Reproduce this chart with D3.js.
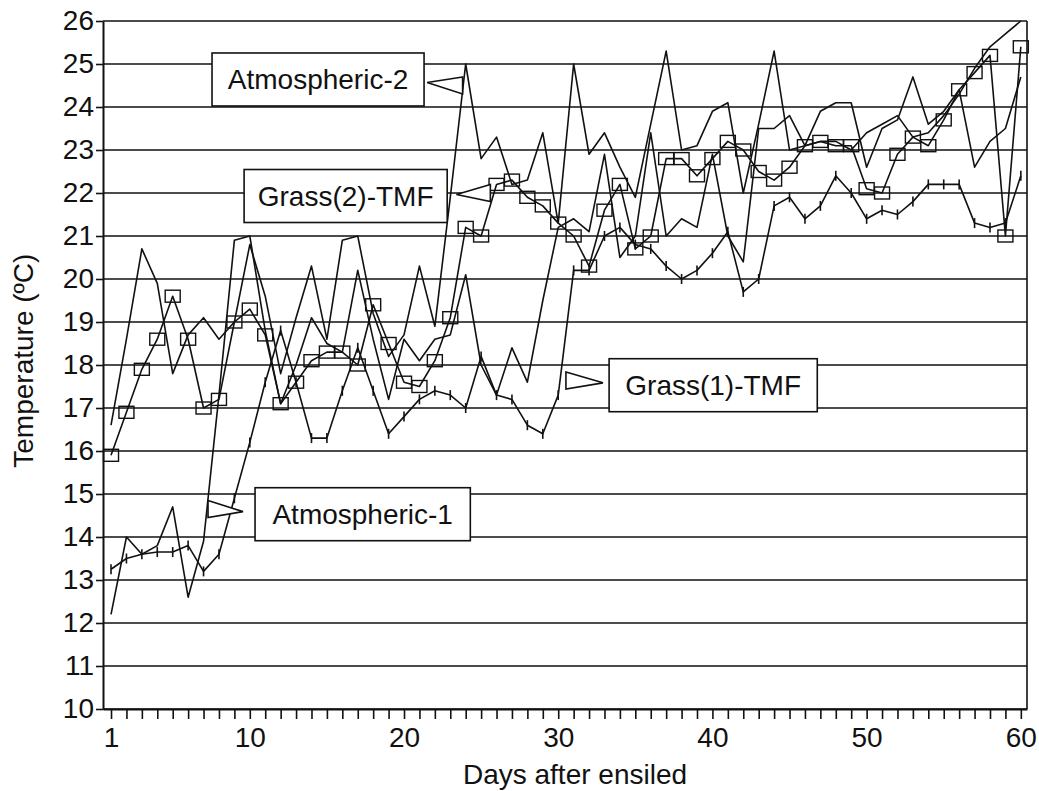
<!DOCTYPE html>
<html>
<head>
<meta charset="utf-8">
<script src="https://cdn.jsdelivr.net/npm/d3@7"></script>
<style>
body { margin: 0; background: #fff; }
text { font-family: "Liberation Sans", Arial, sans-serif; fill: #111; }
</style>
</head>
<body>
<div id="chart-area"></div>
<script>
var days = d3.range(1, 61);

var grass2 = [15.9, 16.9, 17.9, 18.6, 19.6, 18.6, 17.0, 17.2, 19.0, 19.3,
    18.7, 17.1, 17.6, 18.1, 18.3, 18.3, 18.0, 19.4, 18.5, 17.6,
    17.5, 18.1, 19.1, 21.2, 21.0, 22.2, 22.3, 21.9, 21.7, 21.3,
    21.0, 20.3, 21.6, 22.2, 20.7, 21.0, 22.8, 22.8, 22.4, 22.8,
    23.2, 23.0, 22.5, 22.3, 22.6, 23.1, 23.2, 23.1, 23.1, 22.1,
    22.0, 22.9, 23.3, 23.1, 23.7, 24.4, 24.8, 25.2, 21.0, 25.4];

var grass1 = [13.25, 13.5, 13.6, 13.65, 13.65, 13.8, 13.2, 13.6, 14.9, 16.2,
    17.6, 18.8, 17.6, 16.3, 16.3, 17.4, 18.4, 17.4, 16.4, 16.8,
    17.2, 17.4, 17.3, 17.0, 18.2, 17.3, 17.2, 16.6, 16.4, 17.3,
    20.2, 20.2, 21.0, 21.2, 20.8, 20.7, 20.3, 20.0, 20.2, 20.6,
    21.1, 19.7, 20.0, 21.7, 21.9, 21.4, 21.7, 22.4, 22.0, 21.4,
    21.6, 21.5, 21.8, 22.2, 22.2, 22.2, 21.3, 21.2, 21.3, 22.4];

var atmos2 = [16.6, 18.6, 20.7, 19.9, 17.8, 18.7, 19.1, 18.6, 19.0, 20.8,
    19.6, 17.8, 19.1, 20.3, 18.6, 20.9, 21.0, 19.2, 18.2, 18.7,
    20.3, 18.9, 21.9, 25.0, 22.8, 23.3, 22.2, 22.3, 23.4, 21.3,
    25.0, 22.9, 23.4, 22.6, 21.9, 23.6, 25.3, 23.0, 23.1, 23.9,
    24.1, 22.0, 23.6, 25.3, 23.0, 23.1, 23.9, 24.1, 24.1, 22.6,
    23.5, 23.7, 24.7, 23.6, 23.9, 24.4, 22.6, 23.2, 23.5, 24.7];

var atmos1 = [12.2, 14.0, 13.6, 13.8, 14.7, 12.6, 13.9, 17.3, 20.9, 21.0,
    18.8, 17.1, 18.0, 19.1, 18.5, 18.3, 20.2, 18.6, 17.2, 18.6,
    18.1, 18.6, 18.7, 20.1, 18.0, 17.3, 18.4, 17.6, 19.5, 21.2,
    21.4, 21.1, 22.9, 20.5, 21.0, 23.4, 21.0, 21.4, 21.2, 22.9,
    21.0, 20.4, 23.5, 23.5, 23.8, 23.1, 23.2, 23.2, 23.0, 23.4,
    23.6, 23.8, 23.3, 23.4, 23.8, 24.3, 24.9, 25.4, 25.7, 26.0];

var yTicks = d3.range(10, 27);
var xTickLabels = [1, 10, 20, 30, 40, 50, 60];

// label boxes: box span in days, box centre in degrees, pointer base on the line
var labels = [
    { text: "Atmospheric-2", d0: 7.55, d1: 21.3, t: 24.64, tipDay: 21.5, baseDay: 23.8, baseT: 24.5 },
    { text: "Grass(2)-TMF", d0: 9.63, d1: 22.8, t: 21.93, tipDay: 23.4, baseDay: 25.6, baseT: 22.0 },
    { text: "Grass(1)-TMF", d0: 33.3, d1: 46.8, t: 17.53, tipDay: 32.9, baseDay: 30.5, baseT: 17.64 },
    { text: "Atmospheric-1", d0: 10.34, d1: 24.3, t: 14.53, tipDay: 9.56, baseDay: 7.29, baseT: 14.65 }
];

var width = 1039, height = 791;

var svg = d3.select("#chart-area")
    .append("svg")
    .attr("width", width)
    .attr("height", height)
    .style("background-color", "#fff");

var x = d3.scaleLinear().domain([0.48, 60.4]).range([103, 1027]);
var y = d3.scaleLinear().domain([10, 26]).range([709, 21]);

// grid lines
svg.append("g").selectAll("line")
    .data(yTicks)
    .enter().append("line")
    .attr("x1", x.range()[0])
    .attr("x2", x.range()[1])
    .attr("y1", d => y(d))
    .attr("y2", d => y(d))
    .attr("stroke", "#111")
    .attr("stroke-width", 1.6);

// right border
svg.append("line")
    .attr("x1", x.range()[1]).attr("x2", x.range()[1])
    .attr("y1", y(26)).attr("y2", y(10))
    .attr("stroke", "#111")
    .attr("stroke-width", 1.6);

var yAxis = svg.append("g")
    .attr("transform", "translate(" + x.range()[0] + ",0)")
    .call(d3.axisLeft(y).tickValues(yTicks).tickSize(7).tickSizeOuter(0).tickPadding(2));

var xAxis = svg.append("g")
    .attr("transform", "translate(0," + y(10) + ")")
    .call(d3.axisBottom(x).tickValues(days).tickSize(10).tickSizeOuter(0).tickPadding(8)
        .tickFormat(d => xTickLabels.indexOf(d) >= 0 ? d : ""));

[yAxis, xAxis].forEach(a => {
    a.select(".domain").attr("stroke", "#111").attr("stroke-width", 2);
    a.selectAll(".tick line").attr("stroke", "#111").attr("stroke-width", 1.6);
    a.selectAll(".tick text")
        .attr("font-size", "28px")
        .attr("font-family", "'Liberation Sans', Arial, sans-serif")
        .attr("fill", "#111");
});

svg.append("text")
    .attr("x", 575)
    .attr("y", 784)
    .attr("text-anchor", "middle")
    .attr("font-size", "28px")
    .text("Days after ensiled");

svg.append("text")
    .attr("transform", "translate(33," + y(18.1) + ") rotate(-90)")
    .attr("text-anchor", "middle")
    .attr("font-size", "28px")
    .text("Temperature (\u00BAC)");

var line = d3.line()
    .x((d, i) => x(days[i]))
    .y(d => y(d));

[atmos1, atmos2, grass1, grass2].forEach(s => {
    svg.append("path")
        .datum(s)
        .attr("fill", "none")
        .attr("stroke", "#111")
        .attr("stroke-width", 1.6)
        .attr("stroke-linejoin", "round")
        .attr("d", line);
});

// tick markers on Grass(1)-TMF
svg.append("g").selectAll("line")
    .data(grass1)
    .enter().append("line")
    .attr("x1", (d, i) => x(days[i]))
    .attr("x2", (d, i) => x(days[i]))
    .attr("y1", d => y(d) - 5)
    .attr("y2", d => y(d) + 5)
    .attr("stroke", "#111")
    .attr("stroke-width", 1.6);

// square markers on Grass(2)-TMF
svg.append("g").selectAll("rect")
    .data(grass2)
    .enter().append("rect")
    .attr("x", (d, i) => x(days[i]) - 7.5)
    .attr("y", d => y(d) - 6)
    .attr("width", 15)
    .attr("height", 12)
    .attr("fill", "none")
    .attr("stroke", "#111")
    .attr("stroke-width", 1.4);

// labels with pointers
var boxH = 53;
var lab = svg.append("g").selectAll("g")
    .data(labels)
    .enter().append("g");

lab.append("rect")
    .attr("x", d => x(d.d0))
    .attr("y", d => y(d.t) - boxH / 2)
    .attr("width", d => x(d.d1) - x(d.d0))
    .attr("height", boxH)
    .attr("fill", "#fff")
    .attr("stroke", "#111")
    .attr("stroke-width", 1.6);

lab.append("text")
    .attr("x", d => (x(d.d0) + x(d.d1)) / 2)
    .attr("y", d => y(d.t) + 10)
    .attr("text-anchor", "middle")
    .attr("font-size", "28px")
    .text(d => d.text);

lab.append("path")
    .attr("d", d => {
        var bx = x(d.baseDay), by = y(d.baseT);
        var tx = x(d.tipDay), ty = y(d.t) + (by - y(d.t)) * 0.5;
        return "M" + bx + "," + (by - 8.5) + "L" + tx + "," + ty + "L" + bx + "," + (by + 8.5) + "Z";
    })
    .attr("fill", "#fff")
    .attr("stroke", "#111")
    .attr("stroke-width", 1.6);
</script>
</body>
</html>
